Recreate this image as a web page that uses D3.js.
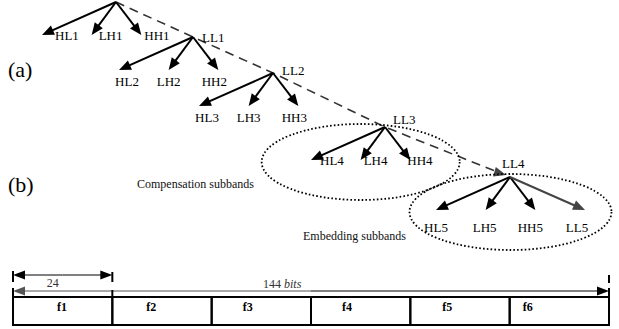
<!DOCTYPE html>
<html>
<head>
<meta charset="utf-8">
<script src="https://cdn.jsdelivr.net/npm/d3@7"></script>
<style>
  body { margin: 0; background: #fff; }
  svg { display: block; font-family: "Liberation Serif", "Times New Roman", serif; }
</style>
</head>
<body>
<svg id="fig" width="619" height="329"></svg>
<script>
// decomposition levels (node 0 = image root, then LL1..LL4)
let levels = [0, 1, 2, 3, 4];
let llNames = ["", "LL1", "LL2", "LL3", "LL4"];
let subbands = ["HL", "LH", "HH"];
let lastLevel = 5;               // level 5 also keeps its LL5 band
let groupLabels = ["Compensation subbands", "Embedding subbands"];
let groupLevels = [4, 5];
let panelLabels = ["(a)", "(b)"];

// bit stream below
let fields = ["f1", "f2", "f3", "f4", "f5", "f6"];
let fieldBits = 24;
let totalBits = 144;

let svg = d3.select("#fig");

// layout scales
let nodeX = d3.scaleLinear().domain(levels).range([116, 193, 273, 385, 510]);
let nodeY = d3.scaleLinear().domain(levels).range([2, 37, 73, 127, 177]);
let bandOff = d3.scalePoint().domain(["HL", "LH", "HH", "LL"]).range([-74, 75]);
let tipDrop = 33;

// label nudges per level (side labels for 1 and 4, under labels otherwise)
let sideDx = {HL: 13, LH: 7, HH: 3};
let sideDx4 = {HL: 9, LH: 3, HH: -3};
let underDx = {HL: 8, LH: 0, HH: -4};
let underDx5 = {HL: 0, LH: -1, HH: -5, LL: -8};

function arrow(g, x1, y1, x2, y2, color, w, hl, hw) {
	let a = Math.atan2(y2 - y1, x2 - x1);
	let bx = x2 - hl * Math.cos(a), by = y2 - hl * Math.sin(a);
	g.append("line")
		.attr("x1", x1).attr("y1", y1)
		.attr("x2", x2 - (hl - 2) * Math.cos(a)).attr("y2", y2 - (hl - 2) * Math.sin(a))
		.attr("stroke", color).attr("stroke-width", w);
	let px = -Math.sin(a) * hw / 2, py = Math.cos(a) * hw / 2;
	g.append("path")
		.attr("d", "M" + x2 + "," + y2 + "L" + (bx + px) + "," + (by + py) + "L" + (bx - px) + "," + (by - py) + "Z")
		.attr("fill", color);
}

let tree = svg.append("g");

// dashed LL chain root -> LL4
let chain = d3.line().x(d => nodeX(d)).y(d => nodeY(d));
let last = levels[levels.length - 1];
tree.append("path")
	.attr("d", chain(levels.slice(0, -1).concat([last - 0.06])))
	.attr("fill", "none").attr("stroke", "#333").attr("stroke-width", 1.6)
	.attr("stroke-dasharray", "9,6");
arrow(tree, nodeX(last - 0.06), nodeY(last - 0.06), nodeX(last) - 4, nodeY(last) - 2, "#444", 0, 12, 10);

// dotted ellipses around compensation / embedding groups
groupLevels.forEach(function(lv, i) {
	let p = lv - 1;
	let names = lv === lastLevel ? subbands.concat(["LL"]) : subbands;
	let xs = names.map(n => nodeX(p) + bandOff(n));
	let cx = (d3.min(xs) + d3.max(xs)) / 2;
	tree.append("ellipse")
		.attr("cx", cx).attr("cy", nodeY(p) + 35)
		.attr("rx", i === 0 ? 99 : 101).attr("ry", 38)
		.attr("fill", "none").attr("stroke", "#000").attr("stroke-width", 1.8)
		.attr("stroke-dasharray", "1.6,2.2");
});

// children arrows and labels
levels.forEach(function(p) {
	let lv = p + 1;
	let names = lv === lastLevel ? subbands.concat(["LL"]) : subbands;
	let x0 = nodeX(p), y0 = nodeY(p);
	names.forEach(function(n) {
		let tx = x0 + bandOff(n), ty = y0 + tipDrop;
		let col = n === "LL" ? "#444" : "#000";
		arrow(tree, x0, y0, tx, ty, col, 2, 12, 10);
		let t = tree.append("text").text(n + lv).attr("font-size", 13).attr("fill", "#000");
		if (lv === 1 || lv === 4) {
			t.attr("x", tx + (lv === 1 ? sideDx[n] : sideDx4[n])).attr("y", ty + 5);
		} else {
			t.attr("x", tx + (lv === 5 ? underDx5[n] : underDx[n]))
				.attr("y", ty + (lv === 5 ? 22 : 16)).attr("text-anchor", "middle");
		}
	});
	if (llNames[p]) {
		let off = [[0, 0], [9, 5], [9, 2], [8, -3], [-8, -9]][p];
		tree.append("text").text(llNames[p])
			.attr("x", x0 + off[0]).attr("y", y0 + off[1])
			.attr("font-size", 13).attr("fill", "#000");
	}
});

// group captions
tree.append("text").text(groupLabels[0]).attr("x", 137).attr("y", 188).attr("font-size", 12).attr("fill", "#111");
tree.append("text").text(groupLabels[1]).attr("x", 303).attr("y", 240).attr("font-size", 12).attr("fill", "#111");

// panel labels
tree.append("text").text(panelLabels[0]).attr("x", 8).attr("y", 77).attr("font-size", 22);
tree.append("text").text(panelLabels[1]).attr("x", 8).attr("y", 192).attr("font-size", 22);

// ----- bit stream -----
let bits = d3.scaleLinear().domain([0, totalBits]).range([13, 609]);
let cells = d3.scaleBand().domain(fields).range([bits(0), bits(totalBits)]);
let barTop = 297, barBottom = 325;

let bar = svg.append("g");
bar.selectAll("rect.cell")
	.data(fields)
	.enter()
	.append("rect")
	.attr("class", "cell")
	.attr("x", d => cells(d))
	.attr("y", barTop)
	.attr("width", cells.bandwidth())
	.attr("height", barBottom - barTop)
	.attr("fill", "none").attr("stroke", "#000").attr("stroke-width", 2);

let labelShift = [49, 39, 36, 36, 37, 18];
bar.selectAll("text.f")
	.data(fields)
	.enter()
	.append("text")
	.attr("class", "f")
	.attr("x", (d, i) => cells(d) + labelShift[i])
	.attr("y", barTop + 14)
	.attr("text-anchor", "middle")
	.attr("font-weight", "bold")
	.attr("font-size", 12)
	.text(d => d);

// 24-bit dimension
let yA = 275;
arrow(bar, bits(fieldBits / 2), yA, bits(0), yA, "#000", 1, 12, 9);
arrow(bar, bits(fieldBits / 2), yA, bits(fieldBits), yA, "#000", 1, 12, 9);
bar.append("line").attr("x1", bits(0)).attr("x2", bits(0)).attr("y1", 271).attr("y2", 282).attr("stroke", "#000").attr("stroke-width", 2);
bar.append("line").attr("x1", bits(fieldBits)).attr("x2", bits(fieldBits)).attr("y1", 272).attr("y2", 282).attr("stroke", "#000").attr("stroke-width", 2);
bar.append("text").text(fieldBits).attr("x", bits(fieldBits / 2) - 10).attr("y", 287).attr("text-anchor", "middle").attr("font-size", 12).attr("fill", "#333");

// 144-bit dimension
let yB = 291;
arrow(bar, bits(totalBits / 2), yB, bits(0), yB, "#555", 1, 12, 9);
arrow(bar, bits(totalBits / 2), yB, bits(totalBits), yB, "#000", 1, 12, 9);
bar.append("line").attr("x1", bits(0)).attr("x2", bits(0)).attr("y1", 288).attr("y2", 297).attr("stroke", "#000").attr("stroke-width", 2);
bar.append("line").attr("x1", bits(fieldBits)).attr("x2", bits(fieldBits)).attr("y1", 290).attr("y2", 297).attr("stroke", "#000").attr("stroke-width", 2);
bar.append("line").attr("x1", bits(totalBits)).attr("x2", bits(totalBits)).attr("y1", 275).attr("y2", 283).attr("stroke", "#000").attr("stroke-width", 2);
bar.append("line").attr("x1", bits(totalBits)).attr("x2", bits(totalBits)).attr("y1", 288).attr("y2", 297).attr("stroke", "#000").attr("stroke-width", 2);
let tb = bar.append("text").attr("x", 263).attr("y", 288).attr("font-size", 12).attr("fill", "#333");
tb.append("tspan").text(totalBits + " ");
tb.append("tspan").attr("font-style", "italic").text("bits");
</script>
</body>
</html>
